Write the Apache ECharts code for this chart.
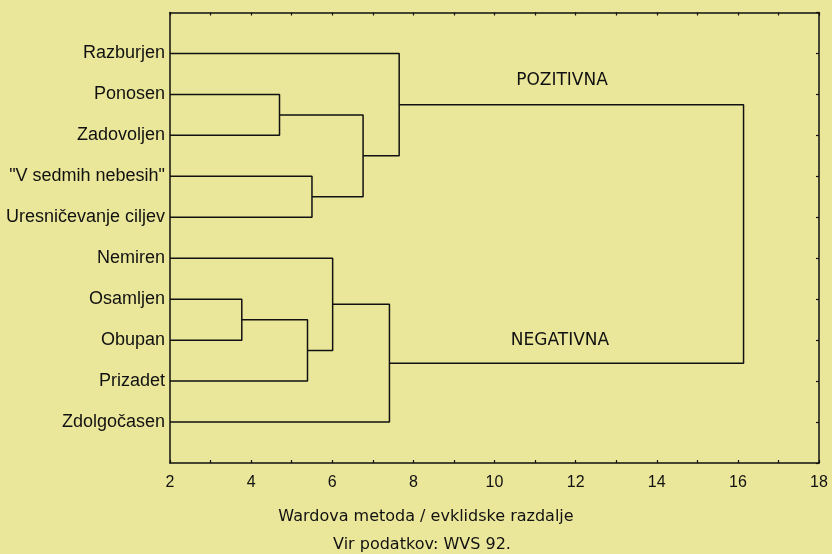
<!DOCTYPE html>
<html>
<head>
<meta charset="utf-8">
<script src="https://cdn.jsdelivr.net/npm/echarts@6/dist/echarts.min.js"></script>
<style>
  html, body { margin: 0; padding: 0; background: #EBE79A; }
  #chart { width: 832px; height: 554px; }
</style>
</head>
<body>
<div id="chart"></div>
<script>
// Leaves (top to bottom)
const leaves = ['Razburjen', 'Ponosen', 'Zadovoljen', '"V sedmih nebesih"', 'Uresničevanje ciljev',
                'Nemiren', 'Osamljen', 'Obupan', 'Prizadet', 'Zdolgočasen'];
// Merge steps: [child A, child B, linkage distance]; ids 0-9 = leaves, 10+ = clusters in order
const mergeA = [1, 3, 10, 0, 6, 14, 5, 16, 13];
const mergeB = [2, 4, 11, 12, 7, 8, 15, 9, 17];
const mergeHeight = [4.70, 5.50, 6.76, 7.65, 3.77, 5.39, 6.01, 7.41, 16.14];
// Axis ticks
const xTicks = [2, 4, 6, 8, 10, 12, 14, 16, 18];
const clusterNames = ['POZITIVNA', 'NEGATIVNA'];
const axisTitle = 'Wardova metoda / evklidske razdalje';
const sourceNote = 'Vir podatkov: WVS 92.';

const xMin = xTicks[0], xMax = xTicks[xTicks.length - 1];
const nodeX = [], nodeY = [];
leaves.forEach((n, i) => { nodeX.push(xMin); nodeY.push(i + 1); });
const series = [];
mergeHeight.forEach((h, k) => {
  const a = mergeA[k], b = mergeB[k];
  series.push({
    type: 'line', symbol: 'none', animation: false, silent: true,
    lineStyle: { color: '#111', width: 1.5 },
    data: [[nodeX[a], nodeY[a]], [h, nodeY[a]], [h, nodeY[b]], [nodeX[b], nodeY[b]]]
  });
  nodeX.push(h);
  nodeY.push((nodeY[a] + nodeY[b]) / 2);
});

const chart = echarts.init(document.getElementById('chart'));
const axisLine = { show: true, onZero: false, lineStyle: { color: '#111', width: 1.5 } };
const tickStyle = { color: '#111', width: 1.2 };
chart.setOption({
  backgroundColor: '#EBE79A',
  animation: false,
  grid: { left: 170, right: 13, top: 12.5, bottom: 91, containLabel: false },
  xAxis: [
    { type: 'value', position: 'bottom', min: xMin, max: xMax, interval: 2,
      axisLine: axisLine, splitLine: { show: false },
      axisTick: { show: true, inside: true, length: 3, lineStyle: tickStyle },
      minorTick: { show: true, splitNumber: 2, length: 3, lineStyle: tickStyle },
      axisLabel: { fontFamily: 'Liberation Sans', fontSize: 16, color: '#111', margin: 12 } },
    { type: 'value', position: 'top', min: xMin, max: xMax, interval: 1,
      axisLine: axisLine, splitLine: { show: false },
      axisTick: { show: true, inside: true, length: 3, lineStyle: tickStyle },
      axisLabel: { show: false } }
  ],
  yAxis: [
    { type: 'value', position: 'left', min: 0, max: leaves.length + 1, interval: 1, inverse: true,
      axisLine: axisLine, splitLine: { show: false }, axisTick: { show: false },
      axisLabel: { fontFamily: 'Liberation Sans', fontSize: 18, color: '#111', margin: 5,
        formatter: v => leaves[v - 1] || '' } },
    { type: 'value', position: 'right', min: 0, max: leaves.length + 1, interval: 1, inverse: true,
      axisLine: axisLine, splitLine: { show: false },
      axisTick: { show: true, inside: true, length: 3, lineStyle: tickStyle },
      axisLabel: { show: false } }
  ],
  graphic: [
    { type: 'text', x: 562, y: 81, silent: true,
      style: { text: clusterNames[0], fill: '#111', font: '17px "DejaVu Sans", sans-serif', textAlign: 'center', textVerticalAlign: 'middle' } },
    { type: 'text', x: 560, y: 341, silent: true,
      style: { text: clusterNames[1], fill: '#111', font: '17px "DejaVu Sans", sans-serif', textAlign: 'center', textVerticalAlign: 'middle' } },
    { type: 'text', x: 426, y: 517, silent: true,
      style: { text: axisTitle, fill: '#111', font: '16px "DejaVu Sans", sans-serif', textAlign: 'center', textVerticalAlign: 'middle' } },
    { type: 'text', x: 422, y: 545, silent: true,
      style: { text: sourceNote, fill: '#111', font: '16px "DejaVu Sans", sans-serif', textAlign: 'center', textVerticalAlign: 'middle' } }
  ],
  series: series
});
</script>
</body>
</html>
